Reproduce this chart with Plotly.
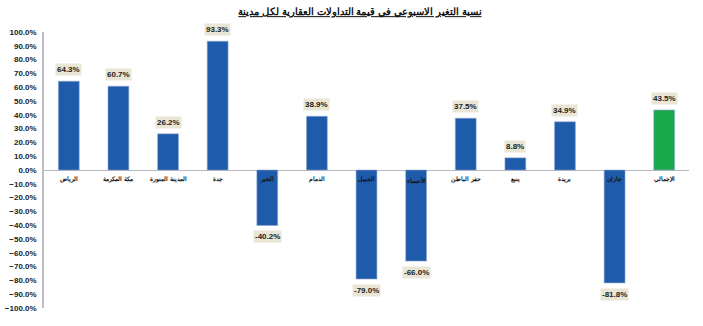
import plotly.graph_objects as go

categories = ["الرياض", "مكة المكرمة", "المدينة المنورة", "جدة", "الخبر", "الدمام",
              "الجبيل", "الأحساء", "حفر الباطن", "ينبع", "بريدة", "جازان", "الإجمالي"]
values = [0.643, 0.607, 0.262, 0.933, -0.402, 0.389, -0.790, -0.660, 0.375, 0.088, 0.349, -0.818, 0.435]
value_labels = ["64.3%", "60.7%", "26.2%", "93.3%", "-40.2%", "38.9%", "-79.0%", "-66.0%",
                "37.5%", "8.8%", "34.9%", "-81.8%", "43.5%"]
title_text = "نسبة التغير الاسبوعي في قيمة التداولات العقارية لكل مدينة"

colors = ["#1f5bab"] * (len(categories) - 1) + ["#19a84a"]

fig = go.Figure()
fig.add_trace(go.Bar(
    x=categories, y=values,
    marker=dict(color=colors, line=dict(color="#8fa6cf", width=0.6)),
    width=0.42,
))

for c, v, t in zip(categories, values, value_labels):
    fig.add_annotation(
        x=c, y=v, xref="x", yref="y", text="<b>" + t + "</b>", showarrow=False,
        yanchor="bottom" if v >= 0 else "top", yshift=5 if v >= 0 else -5,
        bgcolor="#e9e6d6", borderpad=1,
        font=dict(family="Arial, Liberation Sans", size=8, color="#222"),
    )
    fig.add_annotation(
        x=c, y=0, xref="x", yref="y", text="<b>" + c + "</b>", showarrow=False,
        yanchor="top", yshift=-4,
        font=dict(family="Arial, Liberation Sans", size=6, color="#111"),
    )

fig.update_layout(
    width=703, height=326,
    margin=dict(l=44, r=14, t=32, b=18),
    paper_bgcolor="white", plot_bgcolor="white",
    showlegend=False,
    title=dict(text="<b><u>" + title_text + "</u></b>", x=0.512, xanchor="center",
               y=0.975, yanchor="top",
               font=dict(family="Arial, Liberation Sans", size=10, color="#111")),
    xaxis=dict(showticklabels=False, showline=False, showgrid=False, zeroline=False,
               range=[-0.5, 12.5], automargin=False),
    yaxis=dict(range=[-1, 1], dtick=0.1, tickformat=".1%", showgrid=False,
               showline=True, linecolor="#c0bcc8", linewidth=1.5,
               zeroline=True, zerolinecolor="#b8b8c0", zerolinewidth=1,
               ticks="", ticklabelstandoff=4, automargin=False,
               tickfont=dict(family="Arial, Liberation Sans", size=8, color="#222",
                             weight="bold")),
)

fig.write_html("out.html")
